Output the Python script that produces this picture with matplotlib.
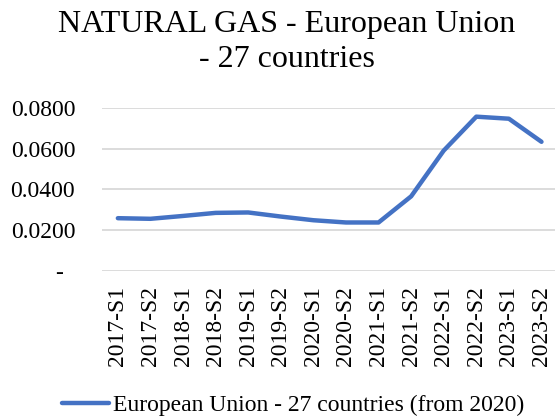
import matplotlib
matplotlib.use("Agg")
import matplotlib.pyplot as plt

periods = ["2017-S1", "2017-S2", "2018-S1", "2018-S2", "2019-S1", "2019-S2",
           "2020-S1", "2020-S2", "2021-S1", "2021-S2", "2022-S1", "2022-S2",
           "2023-S1", "2023-S2"]
eu27 = [0.0259, 0.0256, 0.0270, 0.0285, 0.0287, 0.0267, 0.0249, 0.0238,
        0.0238, 0.0366, 0.0590, 0.0756, 0.0746, 0.0633]
yticks = [0.0, 0.02, 0.04, 0.06, 0.08]
ytick_labels = ["-  ", "0.0200", "0.0400", "0.0600", "0.0800"]
title_lines = ["NATURAL GAS - European Union", "- 27 countries"]
series_name = "European Union - 27 countries (from 2020)"

plt.rcParams['font.family'] = ['Liberation Serif', 'DejaVu Serif']

fig = plt.figure(figsize=(5.55, 4.19), dpi=100)
ax = fig.add_axes([0.183, 0.353, 0.822, 0.390])

x = list(range(len(periods)))
line, = ax.plot(x, eu27, color='#4472C4', linewidth=3.2, solid_capstyle='round',
                solid_joinstyle='round', label=series_name)

ax.set_xlim(-0.5, len(periods) - 0.5)
ax.set_ylim(0, 0.08)
ax.set_yticks(yticks)
ax.set_yticklabels(ytick_labels)
ax.set_xticks(x)
ax.set_xticklabels(periods, rotation=90)
ax.tick_params(axis='both', length=0, labelsize=17, colors='black')
ax.tick_params(axis='y', pad=19)
ax.tick_params(axis='x', pad=11)
ax.grid(axis='y', color='#d9d9d9', linewidth=1.3)
ax.set_axisbelow(True)
for s in ax.spines.values():
    s.set_visible(False)

fig.text(0.517, 1 - 32 / 419, title_lines[0], ha='center', va='baseline', fontsize=23)
fig.text(0.517, 1 - 67 / 419, title_lines[1], ha='center', va='baseline', fontsize=23)

fig.legend(handles=[line], loc='center', bbox_to_anchor=(0.528, 0.033),
           frameon=False, fontsize=17, handlelength=2.0, handletextpad=0.15,
           borderaxespad=0)

fig.savefig('out.png', dpi=100)
